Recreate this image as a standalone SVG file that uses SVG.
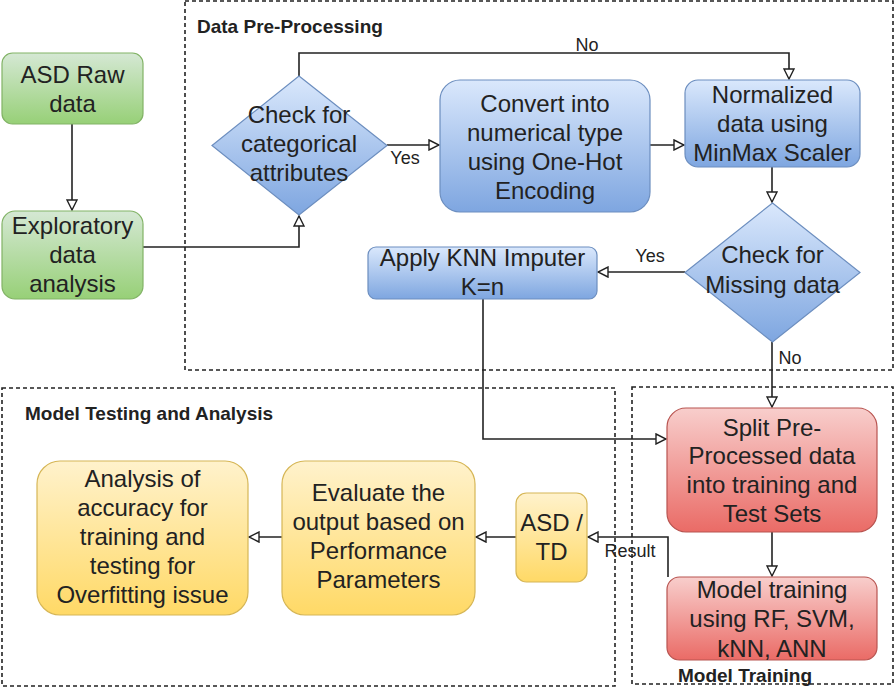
<svg xmlns="http://www.w3.org/2000/svg" width="896" height="690" viewBox="0 0 896 690">
<style>
.t{font-family:"Liberation Sans",Arial,sans-serif;font-size:24px;fill:#222;text-anchor:middle}
.lb{font-family:"Liberation Sans",Arial,sans-serif;font-size:18px;fill:#222}
.sec{font-family:"Liberation Sans",Arial,sans-serif;font-size:19px;font-weight:bold;fill:#222}
.dash{fill:none;stroke:#222;stroke-width:1.6;stroke-dasharray:4 3}
.c{fill:none;stroke:#222;stroke-width:1.6;marker-end:url(#ah)}
.g{fill:url(#gg);stroke:#82b366;stroke-width:1.2}
.b{fill:url(#gb);stroke:#6c8ebf;stroke-width:1.2}
.r{fill:url(#gr);stroke:#b85450;stroke-width:1.2}
.y{fill:url(#gy);stroke:#d6b656;stroke-width:1.2}
</style>
<defs>
<linearGradient id="gg" x1="0" y1="0" x2="0" y2="1"><stop offset="0" stop-color="#d5e8d4"/><stop offset="1" stop-color="#97d077"/></linearGradient>
<linearGradient id="gb" x1="0" y1="0" x2="0" y2="1"><stop offset="0" stop-color="#dae8fc"/><stop offset="1" stop-color="#7ea6e0"/></linearGradient>
<linearGradient id="gr" x1="0" y1="0" x2="0" y2="1"><stop offset="0" stop-color="#f8cecc"/><stop offset="1" stop-color="#ea6b66"/></linearGradient>
<linearGradient id="gy" x1="0" y1="0" x2="0" y2="1"><stop offset="0" stop-color="#fff2cc"/><stop offset="1" stop-color="#ffd966"/></linearGradient>
<marker id="ah" viewBox="0 0 12 12" refX="11" refY="6" markerWidth="12" markerHeight="12" markerUnits="userSpaceOnUse" orient="auto">
<path d="M1,1 L11,6 L1,11 Z" fill="#fff" stroke="#222" stroke-width="1.4"/>
</marker>
</defs>

<g id="containers">
<g id="data-preprocessing">
<rect class="dash" x="185" y="1" width="708" height="369"/>
<text class="sec" x="197" y="33">Data Pre-Processing</text>
</g>
<g id="model-testing">
<rect class="dash" x="2" y="388" width="613" height="298"/>
<text class="sec" x="25" y="420">Model Testing and Analysis</text>
</g>
<g id="model-training-box">
<rect class="dash" x="632" y="387" width="261" height="297"/>
<text class="sec" x="678" y="682">Model Training</text>
</g>
</g>

<g id="connectors">
<path class="c" d="M72,124 V210"/>
<path class="c" d="M143,247 H299 V216"/>
<path class="c" d="M299,76 V53 H789 V79"/>
<text class="lb" x="587" y="51" text-anchor="middle">No</text>
<path class="c" d="M387,145 H439"/>
<text class="lb" x="405" y="164" text-anchor="middle">Yes</text>
<path class="c" d="M650,145 H684"/>
<path class="c" d="M772,167 V202"/>
<path class="c" d="M685,272 H598"/>
<text class="lb" x="650" y="262" text-anchor="middle">Yes</text>
<path class="c" d="M772,342 V407"/>
<text class="lb" x="790" y="364" text-anchor="middle">No</text>
<path class="c" d="M483,299 V439 H666"/>
<path class="c" d="M772,532 V576"/>
<path class="c" d="M668,577 V537 H588"/>
<text class="lb" x="630" y="557" text-anchor="middle">Result</text>
<path class="c" d="M516,537 H476"/>
<path class="c" d="M282,537 H249"/>
</g>

<g id="asd-raw-data">
<rect class="g" x="2" y="53" width="141" height="71" rx="10.6"/>
<text class="t" x="72.5" y="82.5">ASD Raw</text>
<text class="t" x="72.5" y="111.5">data</text>
</g>
<g id="exploratory">
<rect class="g" x="2" y="211" width="141" height="88" rx="13"/>
<text class="t" x="72.5" y="234">Exploratory</text>
<text class="t" x="72.5" y="263">data</text>
<text class="t" x="72.5" y="292">analysis</text>
</g>
<g id="check-categorical">
<polygon class="b" points="299,76 387,145.5 299,215 212,145.5"/>
<text class="t" x="299" y="122.5">Check for</text>
<text class="t" x="299" y="151.5">categorical</text>
<text class="t" x="299" y="180.5">attributes</text>
</g>
<g id="convert">
<rect class="b" x="440" y="80" width="210" height="132" rx="20"/>
<text class="t" x="545" y="111.5">Convert into</text>
<text class="t" x="545" y="140.5">numerical type</text>
<text class="t" x="545" y="169.5">using One-Hot</text>
<text class="t" x="545" y="198.5">Encoding</text>
</g>
<g id="normalized">
<rect class="b" x="685" y="80" width="175" height="87" rx="13"/>
<text class="t" x="772.5" y="102.5">Normalized</text>
<text class="t" x="772.5" y="131.5">data using</text>
<text class="t" x="772.5" y="161">MinMax Scaler</text>
</g>
<g id="check-missing">
<polygon class="b" points="772.5,203 860,272.5 772.5,342 685,272.5"/>
<text class="t" x="772.5" y="263">Check for</text>
<text class="t" x="772.5" y="292.5">Missing data</text>
</g>
<g id="knn-imputer">
<rect class="b" x="368" y="247" width="229" height="52" rx="8"/>
<text class="t" x="482.5" y="266">Apply KNN Imputer</text>
<text class="t" x="482.5" y="295">K=n</text>
</g>
<g id="split">
<rect class="r" x="667" y="408" width="210" height="124" rx="19"/>
<text class="t" x="772" y="435.5">Split Pre-</text>
<text class="t" x="772" y="464">Processed data</text>
<text class="t" x="772" y="493">into training and</text>
<text class="t" x="772" y="522">Test Sets</text>
</g>
<g id="model-training">
<rect class="r" x="667" y="577" width="210" height="83" rx="12.5"/>
<text class="t" x="772" y="597.5">Model training</text>
<text class="t" x="772" y="627">using RF, SVM,</text>
<text class="t" x="772" y="656.5">kNN, ANN</text>
</g>
<g id="asd-td">
<rect class="y" x="516" y="493" width="71" height="89" rx="10.6"/>
<text class="t" x="551.5" y="531">ASD /</text>
<text class="t" x="551.5" y="560">TD</text>
</g>
<g id="evaluate">
<rect class="y" x="282" y="461" width="193" height="154" rx="23"/>
<text class="t" x="378.5" y="501">Evaluate the</text>
<text class="t" x="378.5" y="530">output based on</text>
<text class="t" x="378.5" y="559">Performance</text>
<text class="t" x="378.5" y="588">Parameters</text>
</g>
<g id="analysis">
<rect class="y" x="37" y="461" width="211" height="154" rx="23"/>
<text class="t" x="142.5" y="487">Analysis of</text>
<text class="t" x="142.5" y="516">accuracy for</text>
<text class="t" x="142.5" y="545">training and</text>
<text class="t" x="142.5" y="574">testing for</text>
<text class="t" x="142.5" y="603">Overfitting issue</text>
</g>
</svg>
